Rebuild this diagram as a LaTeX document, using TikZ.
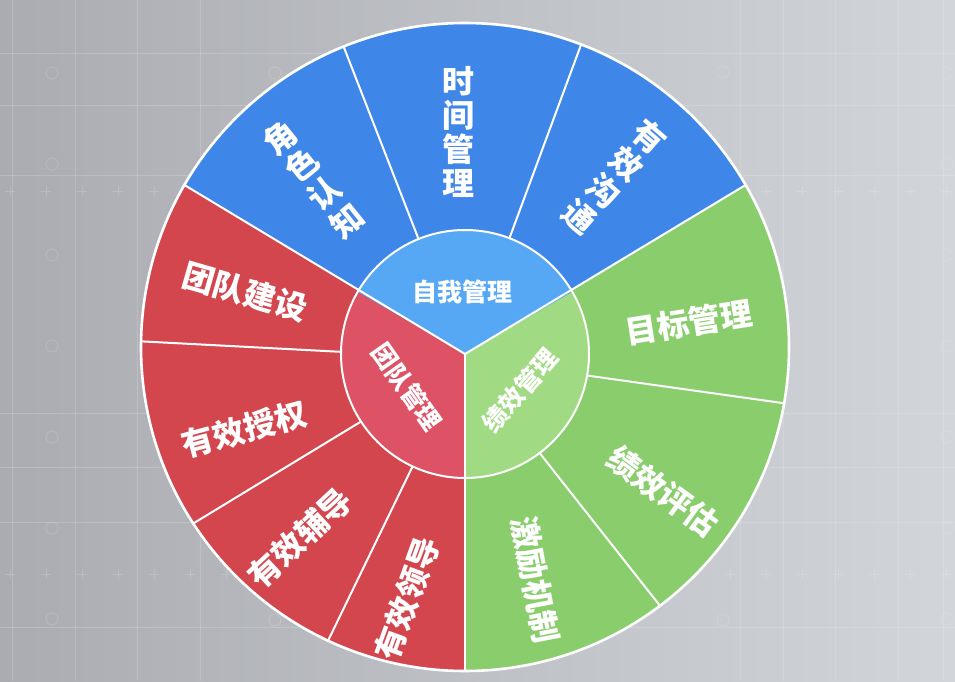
\documentclass[tikz,border=0pt]{standalone}
\usepackage{fontspec}
\newfontfamily\cjk{Noto Sans CJK SC}
\definecolor{bgL}{RGB}{170,172,177}
\definecolor{bgR}{RGB}{210,213,217}
\definecolor{blueO}{RGB}{62,135,232}
\definecolor{blueI}{RGB}{86,168,245}
\definecolor{redO}{RGB}{211,70,78}
\definecolor{redI}{RGB}{221,82,101}
\definecolor{greenO}{RGB}{137,205,108}
\definecolor{greenI}{RGB}{160,218,130}
\tikzset{
  wline/.style={white, line width=2pt},
  gridline/.style={white, opacity=0.16, line width=0.8pt},
  lbl/.style={text=white, font=\cjk\bfseries\fontsize{32}{35.5}\selectfont, align=center, inner sep=0pt},
  lblmid/.style={text=white, font=\cjk\bfseries\fontsize{32}{34}\selectfont, align=center, inner sep=0pt},
  ilbl/.style={text=white, font=\cjk\bfseries\fontsize{25}{30}\selectfont, inner sep=0pt}
}
\begin{document}
\begin{tikzpicture}[x=1pt,y=1pt]
\useasboundingbox (0,0) rectangle (955,681);
% background
\shade[left color=bgL, right color=bgR] (0,0) rectangle (955,681);
% faint technical grid
\foreach \yy in {53,105,175,413,467,522,627}
  \draw[gridline] (0,681-\yy) -- (955,681-\yy);
\foreach \xx in {12,75,137,200,740,783,835,898,943}
  \draw[gridline] (\xx,0) -- (\xx,681);
\foreach \yy in {73,164,255,346,437,528,619}{
  \draw[gridline] (52,681-\yy) circle[radius=6];
  \draw[gridline] (947,681-\yy) circle[radius=6];
}
\foreach \p in {(275,608),(723,609),(275,61),(723,61)}
  \draw[gridline] \p circle[radius=6];
\foreach \xx in {10,46,82,118,154,190,226,262,298,334,370,406,442,478,514,550,586,622,658,694,730,766,802,838,874,910,946}{
  \draw[gridline] (\xx-5,490) -- (\xx+5,490) (\xx,485) -- (\xx,495);
  \draw[gridline] (\xx-5,107) -- (\xx+5,107) (\xx,102) -- (\xx,112);
}
% wheel centres
\coordinate (Co) at (465,334);
\coordinate (Ci) at (465,327);
\def\R{324}
\def\r{124}
% outer sectors
\fill[blueO]  (Ci) -- ([shift={(30:\R)}]Co)  arc[start angle=30,  end angle=150, radius=\R] -- cycle;
\fill[redO]   (Ci) -- ([shift={(150:\R)}]Co) arc[start angle=150, end angle=270, radius=\R] -- cycle;
\fill[greenO] (Ci) -- ([shift={(270:\R)}]Co) arc[start angle=270, end angle=390, radius=\R] -- cycle;
% inner sectors
\fill[blueI]  (Ci) -- ++(30:\r)  arc[start angle=30,  end angle=150, radius=\r] -- cycle;
\fill[redI]   (Ci) -- ++(150:\r) arc[start angle=150, end angle=270, radius=\r] -- cycle;
\fill[greenI] (Ci) -- ++(270:\r) arc[start angle=270, end angle=390, radius=\r] -- cycle;
% dividers
\foreach \a in {30,150,270}
  \draw[wline] (Ci) -- ([shift={(\a:\R)}]Co);
\foreach \a in {69,112,179,213,245,307,350}
  \draw[wline] ([shift={(\a:\r)}]Ci) -- ([shift={(\a:\R)}]Co);
\draw[wline] (Ci) circle[radius=\r];
\draw[white, line width=2.6pt] (Co) circle[radius=\R];
% inner labels
\node[ilbl] (zw) at (462,389) {自我管理};
\node[ilbl, rotate=-55] (td) at (407,294) {团队管理};
\node[ilbl, rotate=49] (jx) at (520,291) {绩效管理};
% blue outer labels (vertical)
\node[lblmid] (sj) at (458,549) {时\\间\\管\\理};
\node[lbl, rotate=39] (js) at (313.5,502) {角\\色\\认\\知};
\node[lbl, rotate=-41] (gt) at (615,504) {有\\效\\沟\\通};
% red outer labels
\node[lbl, rotate=-16] (tj) at (245,389) {团队建设};
\node[lbl, rotate=15] (sq) at (244,252) {有效授权};
\node[lbl, rotate=43] (fd) at (300,143) {有效辅导};
\node[lbl, rotate=70] (ld) at (407,83) {有效领导};
% green outer labels
\node[lbl, rotate=9] (mb) at (689,359) {目标管理};
\node[lbl, rotate=-36] (pg) at (663,190) {绩效评估};
\node[lbl, rotate=-79] (jl) at (535,101) {激励机制};
\end{tikzpicture}
\end{document}
